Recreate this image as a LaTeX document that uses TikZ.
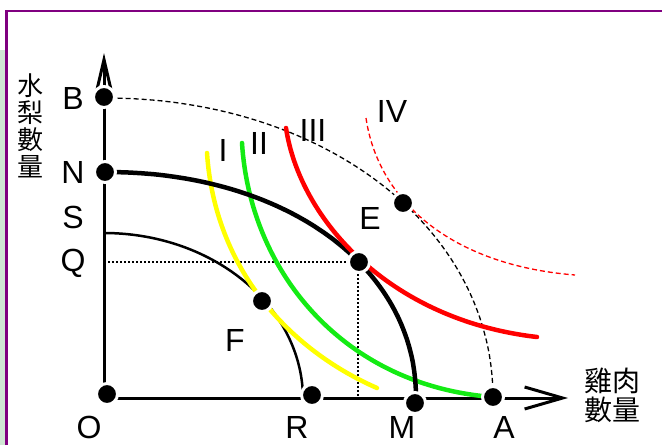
\documentclass[tikz,border=0pt]{standalone}
\usepackage{fontspec}
\setmainfont{Liberation Sans}
\newfontfamily\cjk{Noto Sans CJK TC}
\usetikzlibrary{arrows.meta}
\definecolor{framepurple}{RGB}{128,0,128}
\definecolor{stripgreen}{RGB}{208,230,212}
\definecolor{icyellow}{RGB}{255,255,0}
\definecolor{icgreen}{RGB}{20,235,20}
\definecolor{icred}{RGB}{255,0,0}
\tikzset{
  dot/.style={circle, fill=black, draw=white, line width=3pt, minimum size=21pt, inner sep=0pt},
  lab/.style={font=\fontsize{32}{34}\selectfont, inner sep=0pt},
  cjklab/.style={align=center, inner sep=0pt},
  axisline/.style={line width=3pt},
  guide/.style={line width=1.2pt, dash pattern=on 2pt off 2pt},
  ppfthick/.style={line width=4.5pt},
  ppfthin/.style={line width=2.5pt},
  ppfdash/.style={line width=1.3pt, dash pattern=on 5pt off 3pt},
  icurve/.style={line width=4.5pt, line cap=round},
  icdash/.style={icred, line width=1.3pt, dash pattern=on 5pt off 3pt}
}
\begin{document}
\begin{tikzpicture}[x=1pt,y=-1pt]
\useasboundingbox (0,0) rectangle (662,445);
% frame
\fill[stripgreen] (0,50) rectangle (5,445);
\draw[framepurple, line width=2.5pt] (6.5,445) -- (6.5,11) -- (662,11);

% axes
\coordinate (orig) at (104,398);
\coordinate (ytip) at (104,53);
\coordinate (xtip) at (568,398);
\draw[axisline, -{Straight Barb[length=30pt,width=14pt]}] (orig) -- (ytip);
\draw[axisline, -{Straight Barb[length=38pt,width=22pt]}] (orig) -- (xtip);

% guides
\coordinate (Qy) at (104,262);
\coordinate (Ex) at (358,398);
\draw[guide] (Qy) -- (358,262);
\draw[guide] (358,262) -- (Ex);

% production possibility frontiers
\draw[ppfdash] plot[domain=0.01:89.99, samples=90] ({104+389*pow(cos(\x),0.976)}, {399-301*pow(sin(\x),0.976)});
\draw[ppfthin] plot[domain=0:90, samples=90] ({104+199*cos(\x)}, {399-166*sin(\x)});

% indifference curves
\draw[icurve, icyellow] (207,153) .. controls (215,270) and (290,350) .. (377,388);
\draw[icurve, icgreen] (242,143) .. controls (250,270) and (340,380) .. (482,396);
\draw[ppfthick] plot[domain=0.01:89.99, samples=90] ({104+312*pow(cos(\x),0.952)}, {399-227*pow(sin(\x),0.952)});
\draw[icurve, icred] (286,128) .. controls (300,220) and (390,320) .. (537,337);
\draw[icdash] (366,118) .. controls (378,200) and (450,265) .. (575,275);

% dots
\node[dot] (B) at (104,97) {};
\node[dot] (N) at (105,172) {};
\node[dot] (O) at (107,394) {};
\node[dot] (R) at (312,395) {};
\node[dot] (M) at (415,403) {};
\node[dot] (A) at (493,397) {};
\node[dot] (E) at (359,262) {};
\node[dot] (F) at (262,301) {};
\node[dot] (G) at (403,203) {};

% labels
\node[lab] (lB) at (73,98) {B};
\node[lab] (lN) at (73,172) {N};
\node[lab] (lS) at (73,217) {S};
\node[lab] (lQ) at (73,263) {Q};
\node[lab, anchor=base] (lO) at (89,438) {O};
\node[lab, anchor=base] (lR) at (297,438) {R};
\node[lab, anchor=base] (lM) at (402,438) {M};
\node[lab, anchor=base] (lA) at (504,438) {A};
\node[lab] (lE) at (370,218) {E};
\node[lab] (lF) at (235,340) {F};
\node[lab] (lI) at (223,150) {I};
\node[lab] (lII) at (259,143) {II};
\node[lab] (lIII) at (313,130) {III};
\node[lab] (lIV) at (392,111) {IV};
\node[cjklab, font=\cjk\fontsize{26}{27}\selectfont] (ylab) at (30,126) {水\\梨\\數\\量};
\node[cjklab, font=\cjk\fontsize{28}{29}\selectfont] (xlab) at (612,395) {雞肉\\數量};
\end{tikzpicture}
\end{document}
